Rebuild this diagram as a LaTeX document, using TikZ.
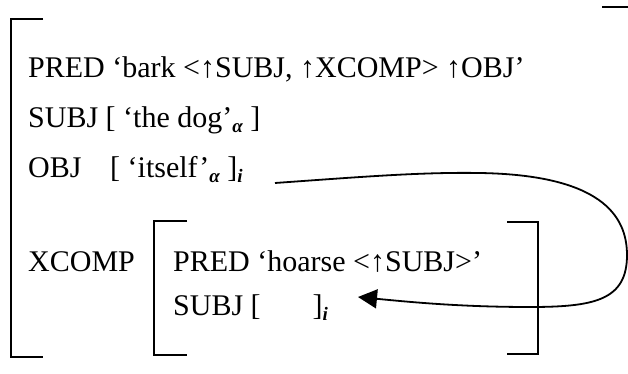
\documentclass[tikz,border=0pt]{standalone}
\usepackage{fontspec}
\setmainfont{Liberation Serif}
\usetikzlibrary{arrows.meta}
\newcommand{\lowidx}[1]{\raisebox{-5pt}{\fontsize{19}{19}\selectfont\bfseries\itshape #1}}

\begin{document}
\begin{tikzpicture}[x=1pt,y=-1pt,
  line/.style={anchor=base west,inner sep=0pt,font=\fontsize{30}{36}\selectfont},
  brack/.style={line width=2pt},
  link/.style={line width=1.8pt,-{Triangle[length=19pt,width=19pt]}}]
	\useasboundingbox (0,0) rectangle (628,374);
	% outer f-structure
	\draw[brack] (43,19)--(11,19)--(11,357)--(43,357);
	\draw[brack] (602,7)--(628,7);
	\node[line] (pred) at (28,78) {PRED ‘bark <↑SUBJ, ↑XCOMP> ↑OBJ’};
	\node[line] (subj) at (28,128) {SUBJ [ ‘the dog’\lowidx{α} ]};
	\node[line] (obj) at (28,177) {OBJ};
	\node[line] (objval) at (110,177) {[ ‘itself’\lowidx{α} ]\lowidx{i}};
	\node[line] (xcomp) at (28,271) {XCOMP};
	% inner f-structure
	\draw[brack] (187,221)--(154,221)--(154,355)--(187,355);
	\draw[brack] (507,222)--(538,222)--(538,354)--(507,354);
	\node[line] (ipred) at (173,271) {PRED ‘hoarse <↑SUBJ>’};
	\node[line] (isubj) at (173,315) {SUBJ [\hspace{52pt}]\lowidx{i}};
	% control link
	\coordinate (from) at (275,183);
	\coordinate (to) at (358,297);
	\draw[link] (from) .. controls (360,177) and (420,172) .. (480,173)
		.. controls (600,175) and (627,215) .. (627,255)
		.. controls (627,300) and (595,307) .. (530,307)
		.. controls (460,307) and (410,302) .. (to);
\end{tikzpicture}
\end{document}
